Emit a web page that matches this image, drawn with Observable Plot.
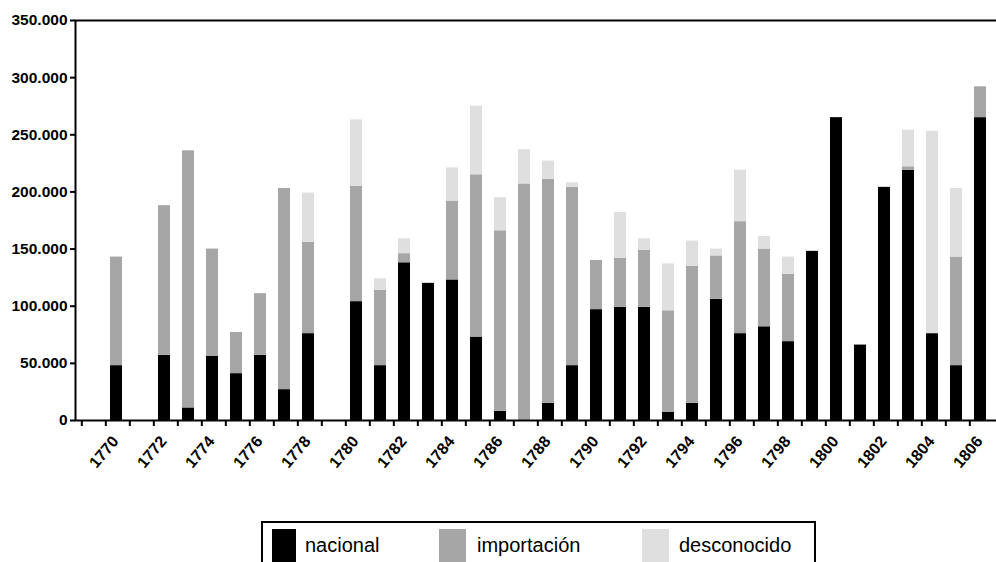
<!DOCTYPE html>
<html><head><meta charset="utf-8">
<script src="https://cdn.jsdelivr.net/npm/d3@7"></script>
<script src="https://cdn.jsdelivr.net/npm/@observablehq/plot@0.6"></script>
<style>
html,body{margin:0;padding:0;background:#fff;overflow:hidden;width:996px;height:562px;}
#chart{position:absolute;left:0;top:0;width:1000px;}
#legend{position:absolute;left:261px;top:521px;width:555px;height:70px;box-sizing:border-box;border:2px solid #000;font-family:"Liberation Sans",Arial,sans-serif;font-size:20px;line-height:20px;color:#000;}
.sw{position:absolute;top:6px;height:40px;}
.lb{position:absolute;top:12px;white-space:nowrap;}
</style>
</head><body>
<div id="chart"></div>
<div id="legend"></div>
<script>
const years = d3.range(1770, 1807);
const slots = d3.range(1769, 1807);
const nacional =    [48000,0,57000,11000,56000,41000,57000,27000,76000,0,104000,48000,138000,120000,123000,73000,8000,0,15000,48000,97000,99000,99000,7000,15000,106000,76000,82000,69000,148000,265000,66000,204000,219000,76000,48000,265000];
const importacion = [95000,0,131000,225000,94000,36000,54000,176000,80000,0,101000,66000,8000,0,69000,142000,158000,207000,196000,156000,43000,43000,50000,89000,120000,38000,98000,68000,59000,0,0,0,0,3000,0,95000,27000];
const desconocido = [0,0,0,0,0,0,0,0,43000,0,58000,10000,13000,0,29000,60000,29000,30000,16000,4000,0,40000,10000,41000,22000,6000,45000,11000,15000,0,0,0,0,32000,177000,60000,0];
const series = ["nacional", "importación", "desconocido"];
const colors = ["#000000", "#a6a6a6", "#dfdfdf"];
const yTicks = [0, 50000, 100000, 150000, 200000, 250000, 300000, 350000];
const yTickLabels = ["0", "50.000", "100.000", "150.000", "200.000", "250.000", "300.000", "350.000"];
const xLabelYears = d3.range(1770, 1807, 2);

const seriesValues = [nacional, importacion, desconocido];
const data = [];
years.forEach((yr, i) => {
  series.forEach((s, k) => data.push({year: yr, type: s, value: seriesValues[k][i]}));
});

const W = 1000, ML = 75;
const step = (W - ML) / slots.length;

const chart = Plot.plot({
  width: W, height: 470,
  marginLeft: ML, marginRight: 0, marginTop: 20, marginBottom: 50,
  x: {type: "band", domain: slots, paddingInner: 0.5, paddingOuter: 0.25},
  y: {domain: [0, 350000]},
  color: {domain: series, range: colors},
  style: {fontFamily: "'Liberation Sans', Arial, sans-serif", background: "white", maxWidth: "none", color: "#000", overflow: "visible"},
  marks: [
    Plot.barY(data, {x: "year", y: "value", fill: "type", order: series, dx: -2}),
    Plot.frame({stroke: "#000", strokeWidth: 2}),
    Plot.axisY({ticks: yTicks, tickFormat: (d) => yTickLabels[yTicks.indexOf(d)], tickSize: 5, tickPadding: 3, fontSize: 15.5, fontWeight: "bold", strokeWidth: 2, label: null}),
    Plot.axisX({ticks: slots, tickFormat: () => "", tickSize: 6, dx: -step / 2 - 0.5, strokeWidth: 2, label: null}),
    Plot.text(xLabelYears, {x: d => d, y: () => 0, text: d => String(d), rotate: -50, textAnchor: "end", lineAnchor: "middle", fontSize: 16, fontWeight: "bold", fill: "#000", dx: -3, dy: 18})
  ]
});
chart.style.maxWidth = "none";
document.getElementById("chart").appendChild(chart);

const legend = document.getElementById("legend");
const swLeft = [9, 176, 379];
const swWidth = [24, 27, 27];
const lbLeft = [42, 214, 416];
series.forEach((s, k) => {
  const sw = document.createElement("div");
  sw.className = "sw";
  sw.style.left = swLeft[k] + "px";
  sw.style.width = swWidth[k] + "px";
  sw.style.background = colors[k];
  legend.appendChild(sw);
  const lb = document.createElement("div");
  lb.className = "lb";
  lb.style.left = lbLeft[k] + "px";
  lb.textContent = s;
  legend.appendChild(lb);
});
</script>
</body></html>
